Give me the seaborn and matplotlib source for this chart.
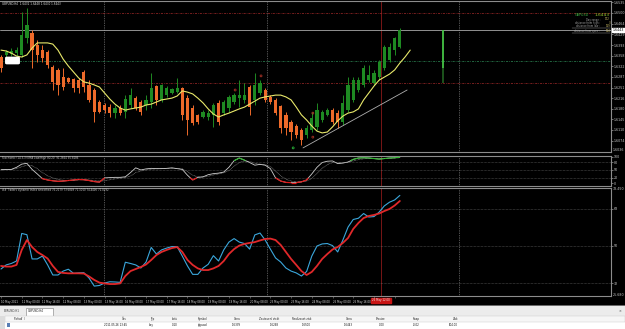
import numpy as np
import pandas as pd
import matplotlib
matplotlib.use("Agg")
import matplotlib.pyplot as plt
import matplotlib.transforms as mtransforms
from matplotlib.collections import LineCollection
from matplotlib.patches import Rectangle, FancyBboxPatch
import seaborn as sns

# ------------------------------------------------------------------ data
open_prices = [1.6353, 1.6360, 1.6363, 1.6366, 1.6360, 1.6416, 1.6433, 1.6393, 1.6376, 1.6370,
               1.6320, 1.6310, 1.6286, 1.6283, 1.6280, 1.6276, 1.6303, 1.6260, 1.6243, 1.6203,
               1.6193, 1.6186, 1.6166, 1.6183, 1.6170, 1.6193, 1.6216, 1.6203, 1.6193, 1.6203,
               1.6256, 1.6210, 1.6226, 1.6233, 1.6236, 1.6250, 1.6216, 1.6183, 1.6160, 1.6153,
               1.6153, 1.6160, 1.6200, 1.6166, 1.6183, 1.6203, 1.6216, 1.6210, 1.6253, 1.6210,
               1.6233, 1.6243, 1.6220, 1.6210, 1.6190, 1.6160, 1.6136, 1.6123, 1.6110, 1.6093,
               1.6110, 1.6120, 1.6143, 1.6160, 1.6176, 1.6166, 1.6136, 1.6176, 1.6210, 1.6243,
               1.6260, 1.6276, 1.6266, 1.6286, 1.6316, 1.6343, 1.6376, 1.6386]
high_prices = [1.6360, 1.6376, 1.6383, 1.6386, 1.6503, 1.6516, 1.6443, 1.6410, 1.6393, 1.6376,
               1.6326, 1.6316, 1.6316, 1.6286, 1.6283, 1.6283, 1.6310, 1.6276, 1.6250, 1.6210,
               1.6200, 1.6196, 1.6193, 1.6193, 1.6226, 1.6250, 1.6223, 1.6210, 1.6226, 1.6300,
               1.6260, 1.6263, 1.6256, 1.6250, 1.6283, 1.6253, 1.6226, 1.6193, 1.6163, 1.6176,
               1.6176, 1.6200, 1.6210, 1.6210, 1.6226, 1.6233, 1.6276, 1.6266, 1.6260, 1.6300,
               1.6276, 1.6250, 1.6226, 1.6216, 1.6193, 1.6170, 1.6143, 1.6130, 1.6116, 1.6126,
               1.6170, 1.6200, 1.6176, 1.6183, 1.6183, 1.6176, 1.6226, 1.6286, 1.6286, 1.6286,
               1.6326, 1.6326, 1.6310, 1.6343, 1.6393, 1.6400, 1.6420, 1.6450]
low_prices = [1.6303, 1.6353, 1.6356, 1.6356, 1.6353, 1.6400, 1.6316, 1.6336, 1.6336, 1.6316,
              1.6243, 1.6226, 1.6243, 1.6266, 1.6236, 1.6233, 1.6236, 1.6203, 1.6136, 1.6166,
              1.6166, 1.6153, 1.6150, 1.6160, 1.6150, 1.6183, 1.6176, 1.6160, 1.6176, 1.6183,
              1.6193, 1.6203, 1.6220, 1.6230, 1.6233, 1.6143, 1.6093, 1.6126, 1.6130, 1.6150,
              1.6143, 1.6120, 1.6126, 1.6160, 1.6170, 1.6196, 1.6186, 1.6200, 1.6160, 1.6193,
              1.6226, 1.6203, 1.6196, 1.6160, 1.6100, 1.6093, 1.6076, 1.6083, 1.6060, 1.6083,
              1.6103, 1.6110, 1.6136, 1.6156, 1.6130, 1.6116, 1.6126, 1.6170, 1.6203, 1.6236,
              1.6253, 1.6270, 1.6260, 1.6276, 1.6310, 1.6336, 1.6360, 1.6383]
close_prices = [1.6316, 1.6370, 1.6373, 1.6376, 1.6426, 1.6460, 1.6376, 1.6360, 1.6350, 1.6326,
                1.6270, 1.6260, 1.6253, 1.6270, 1.6250, 1.6250, 1.6253, 1.6210, 1.6170, 1.6170,
                1.6176, 1.6166, 1.6183, 1.6166, 1.6213, 1.6226, 1.6183, 1.6170, 1.6210, 1.6250,
                1.6210, 1.6260, 1.6250, 1.6246, 1.6250, 1.6160, 1.6143, 1.6133, 1.6136, 1.6170,
                1.6166, 1.6193, 1.6136, 1.6203, 1.6220, 1.6226, 1.6226, 1.6226, 1.6186, 1.6260,
                1.6266, 1.6210, 1.6203, 1.6166, 1.6116, 1.6116, 1.6103, 1.6093, 1.6076, 1.6116,
                1.6150, 1.6176, 1.6170, 1.6176, 1.6136, 1.6136, 1.6200, 1.6260, 1.6276, 1.6276,
                1.6316, 1.6293, 1.6300, 1.6336, 1.6386, 1.6386, 1.6416, 1.6443]

moving_average = [1.6376, 1.6373, 1.6366, 1.6356, 1.6353, 1.6360, 1.6383, 1.6400, 1.6400, 1.6400,
                  1.6396, 1.6376, 1.6346, 1.6323, 1.6303, 1.6283, 1.6270, 1.6266, 1.6260, 1.6253,
                  1.6233, 1.6213, 1.6196, 1.6183, 1.6176, 1.6180, 1.6183, 1.6186, 1.6193, 1.6196,
                  1.6203, 1.6210, 1.6213, 1.6216, 1.6223, 1.6240, 1.6236, 1.6230, 1.6216, 1.6200,
                  1.6180, 1.6163, 1.6153, 1.6160, 1.6166, 1.6173, 1.6180, 1.6186, 1.6196, 1.6206,
                  1.6216, 1.6220, 1.6223, 1.6226, 1.6226, 1.6220, 1.6210, 1.6186, 1.6160, 1.6143,
                  1.6123, 1.6106, 1.6100, 1.6103, 1.6120, 1.6140, 1.6156, 1.6166, 1.6170, 1.6180,
                  1.6210, 1.6233, 1.6256, 1.6276, 1.6286, 1.6296, 1.6310, 1.6333, 1.6353, 1.6376]

stoch_main = [51, 52, 52, 60, 72, 75, 52, 35, 17, 12,
              9, 7, 8, 10, 12, 14, 13, 10, 6, 4,
              20, 21, 22, 22, 24, 40, 58, 50, 54, 56,
              55, 55, 56, 58, 55, 52, 30, 12, 22, 24,
              32, 36, 38, 42, 60, 85, 95, 87, 78, 68,
              71, 68, 55, 20, 8, 3, 2, 2, 5, 12,
              35, 60, 78, 83, 84, 74, 76, 80, 90, 95,
              96, 95, 93, 91, 93, 95, 96, 98]
stoch_signal = [50, 51, 52, 55, 62, 68, 66, 55, 40, 28,
                20, 14, 11, 10, 10, 12, 13, 12, 10, 8,
                9, 13, 16, 19, 21, 27, 40, 46, 50, 53,
                54, 55, 55, 56, 56, 54, 44, 30, 24, 23,
                26, 31, 35, 39, 48, 64, 78, 84, 82, 75,
                72, 70, 63, 45, 28, 15, 8, 5, 5, 8,
                18, 36, 56, 70, 78, 78, 77, 79, 84, 89,
                92, 94, 94, 93, 93, 94, 95, 96]

tdi_price_line = [38.8, 40.8, 41.5, 42.7, 56.1, 55.5, 43.7, 43.7, 45.1, 40.8,
                  35.9, 35.9, 37.8, 38.7, 36.7, 36.9, 37.0, 34.4, 30.5, 30.8,
                  32.0, 32.6, 32.5, 32.3, 42.1, 41.5, 40.8, 39.3, 42.2, 49.3,
                  46.1, 48.1, 49.0, 49.7, 49.7, 45.1, 40.3, 36.2, 36.2, 39.3,
                  41.1, 45.3, 42.7, 48.1, 51.9, 53.6, 51.9, 51.2, 48.5, 55.4,
                  56.3, 52.9, 48.5, 44.2, 42.2, 39.3, 37.8, 36.9, 35.4, 37.6,
                  45.1, 50.0, 51.0, 51.2, 50.2, 47.1, 52.9, 59.2, 62.9, 63.5,
                  65.8, 64.1, 64.3, 66.5, 69.5, 71.3, 72.4, 74.6]
tdi_signal_line = [40.3, 40.0, 40.0, 40.8, 48.1, 52.9, 49.5, 47.1, 45.6, 43.9,
                   40.3, 37.4, 36.9, 36.7, 36.7, 36.7, 36.6, 35.2, 33.5, 32.2,
                   31.8, 31.5, 31.5, 31.8, 35.4, 37.8, 38.8, 39.8, 41.0, 43.2,
                   45.6, 47.1, 48.1, 49.0, 49.5, 47.1, 43.2, 40.8, 39.1, 38.3,
                   38.3, 39.1, 40.3, 42.7, 46.1, 48.5, 50.2, 51.0, 51.5, 51.9,
                   52.7, 53.4, 53.6, 52.9, 50.5, 47.1, 43.7, 40.8, 37.8, 35.9,
                   37.4, 40.3, 43.7, 46.1, 48.3, 49.5, 51.5, 53.9, 58.3, 61.2,
                   63.6, 64.6, 65.1, 65.8, 67.0, 68.0, 69.7, 71.9]

time_labels = ["10 May 2011", "11 May 00:00", "11 May 16:00", "12 May 08:00", "13 May 00:00",
               "13 May 16:00", "16 May 08:00", "17 May 00:00", "17 May 16:00", "18 May 08:00",
               "19 May 00:00", "19 May 16:00", "20 May 08:00", "23 May 00:00", "23 May 16:00",
               "24 May 08:00", "25 May 00:00", "25 May 16:00", "26 May 08:00", "27 May 00:00"]
order_time_label = "26 May 12:00"
price_ticks = [1.6535, 1.6500, 1.6464, 1.6429, 1.6393, 1.6358, 1.6322, 1.6287, 1.6251,
               1.6216, 1.6180, 1.6145, 1.6110, 1.6074]
stoch_ticks = [100, 80, 50, 20, 0]
tdi_ticks = [68, 50, 32]

current_price = 1.6443
order_open = 1.6339
stop_loss = 1.6268
take_profit = 1.6500
trend_line_bars = [58.3, 78.4]
trend_line_prices = [1.6050, 1.6243]
day_range_top, day_range_mid, day_range_low = 1.6443, 1.6316, 1.6266
fractal_up_bars = [45.2, 50.2, 60.2, 60.2]
fractal_up_prices = [1.6243, 1.6290, 1.6166, 1.6086]
fractal_dn_bars = [56.4]
fractal_dn_prices = [1.6050]

info_rows = [("Day range :", "172"), ("distance from high :", "3"),
             ("distance from low :", "169"), ("distance from open :", "104")]
table_header = ["Pořadí  /", "Čas", "Typ", "Lotů", "Symbol", "Cena", "Zastavení ztrát",
                "Realizovat zisk", "Cena", "Provize", "Swap", "Zisk"]
table_row = ["", "2011.05.26 13:45", "buy", "0.10", "gbpusd", "1.6339", "1.6268",
             "1.6500", "1.6443", "0.00", "-0.02", "104.00"]

# ------------------------------------------------------------------ style
sns.set_theme(style="white", rc={"axes.facecolor": "black", "figure.facecolor": "black"})
plt.rcParams["font.family"] = ["DejaVu Sans"]

W, H = 625, 329
PX = 5.18  # pixels per bar


def rect(x0, y0, x1, y1):
    return [x0 / W, 1 - y1 / H, (x1 - x0) / W, (y1 - y0) / H]


def bx(px):
    return (px - 1) / PX


fig = plt.figure(figsize=(6.25, 3.29), dpi=100, facecolor="black")
ax_main = fig.add_axes(rect(0, 1, 611, 152))
ax_sto = fig.add_axes(rect(0, 155.5, 611, 185.5), sharex=ax_main)
ax_tdi = fig.add_axes(rect(0, 187.5, 611, 296), sharex=ax_main)

GRAY = "#8C8C8C"
TXT = "#C8C8C8"
order_bar = bx(381)
for ax in (ax_main, ax_sto, ax_tdi):
    ax.set_facecolor("black")
    for s in ("top", "bottom", "right"):
        ax.spines[s].set_color(GRAY)
        ax.spines[s].set_linewidth(0.8)
    ax.spines["left"].set_visible(False)
    ax.yaxis.tick_right()
    ax.tick_params(axis="y", labelsize=2.3, colors=TXT, length=1.2, width=0.4, pad=0.8)
    ax.grid(False)
    for vx in (bx(104), bx(267), bx(459)):
        ax.axvline(vx, color="#A0A0A0", ls=(0, (1, 1.5)), lw=0.5, zorder=1)
    ax.axvline(order_bar, color="#8B1A1A", lw=0.6, zorder=1)

ax_main.set_xlim(bx(0), bx(611))

# ------------------------------------------------------------------ price panel
o = np.array(open_prices); c = np.array(close_prices)
hi = np.array(high_prices); lo = np.array(low_prices)
xb = np.arange(len(c))
bull = c >= o
GREEN = "#1E8A22"
ORANGE = "#EE6A2A"
cols = np.where(bull, GREEN, ORANGE)
ax_main.vlines(xb, lo, hi, colors=cols, lw=0.7, zorder=3)
ax_main.bar(xb, np.maximum(np.abs(c - o), 0.0002), bottom=np.minimum(o, c), width=0.62,
            color=cols, lw=0, zorder=4)

ax_main.axhline(take_profit, color="#A52A2A", ls=(0, (3, 1.5, 1, 1.5)), lw=0.5, zorder=2)
ax_main.axhline(stop_loss, color="#A52A2A", ls=(0, (3, 1.5, 1, 1.5)), lw=0.5, zorder=2)
ax_main.axhline(order_open, color="#2E8B57", ls=(0, (3, 1.5, 1, 1.5)), lw=0.5, zorder=2)
ax_main.axhline(current_price, color="#A8A8A8", lw=0.6, zorder=2)

sns.lineplot(x=np.arange(len(moving_average)), y=moving_average, ax=ax_main,
             color="#E8E86A", lw=0.8, estimator=None, sort=False, zorder=5)
sns.lineplot(x=trend_line_bars, y=trend_line_prices, ax=ax_main, color="#B0B0B0",
             lw=0.6, estimator=None, sort=False, zorder=5)
ax_main.scatter(fractal_up_bars, fractal_up_prices, s=2, facecolors="none",
                edgecolors="#C0392B", linewidths=0.5, zorder=6)
ax_main.scatter(fractal_dn_bars, fractal_dn_prices, s=2, facecolors="none",
                edgecolors="#2ECC40", linewidths=0.5, zorder=6)
dx = bx(443)
ax_main.vlines([dx], [day_range_mid], [day_range_top], colors="#45C445", lw=1.3, zorder=4)
ax_main.vlines([dx], [day_range_low], [day_range_mid], colors="#1F5A1F", lw=1.3, zorder=4)

ax_main.set_ylim(1.6543 - 152 * 0.0003333, 1.6543 - 1 * 0.0003333)
ax_main.set_yticks(price_ticks)
ax_main.set_yticklabels([f"{p:.4f}" for p in price_ticks])
ax_main.set_xlabel(""); ax_main.set_ylabel("")
tr = mtransforms.blended_transform_factory(ax_main.transAxes, ax_main.transData)
ax_main.text(1.003, current_price, f"{current_price:.4f}", transform=tr, fontsize=2.3,
             color="black", va="center", ha="left",
             bbox=dict(boxstyle="square,pad=0.15", fc="white", ec="white"), zorder=10,
             clip_on=False)

# ------------------------------------------------------------------ stochastic
sm = np.array(stoch_main, dtype=float)
xs = np.arange(len(sm))
sns.lineplot(x=xs, y=stoch_signal, ax=ax_sto, color="#9A9A9A", lw=0.5, ls=(0, (1, 1)),
             estimator=None, sort=False)
sns.lineplot(x=xs, y=sm, ax=ax_sto, color="#D0D0D0", lw=0.6, estimator=None, sort=False)


def segs(xv, yv, thr, below):
    out = []
    for i in range(len(xv) - 1):
        x0, x1, y0, y1 = xv[i], xv[i + 1], yv[i], yv[i + 1]
        a = y0 < thr if below else y0 > thr
        b = y1 < thr if below else y1 > thr
        if a and b:
            out.append([(x0, y0), (x1, y1)])
        elif a or b:
            t = (thr - y0) / (y1 - y0)
            xc = x0 + t * (x1 - x0)
            out.append([(x0, y0), (xc, thr)] if a else [(xc, thr), (x1, y1)])
    return out


ax_sto.add_collection(LineCollection(segs(xs, sm, 20, True), colors="#E01818", lw=0.9, zorder=5))
ax_sto.add_collection(LineCollection(segs(xs, sm, 85, False), colors="#2EB82E", lw=0.8, zorder=5))
for lv in (80, 50, 20):
    ax_sto.axhline(lv, color="#808080", ls=(0, (1, 1.5)), lw=0.4)
ax_sto.set_ylim(-8.8, 104.6)
ax_sto.set_yticks(stoch_ticks)
ax_sto.set_yticklabels([str(t) for t in stoch_ticks])
ax_sto.set_xlabel(""); ax_sto.set_ylabel("")

# ------------------------------------------------------------------ TDI
xt = np.arange(len(tdi_price_line))
sns.lineplot(x=xt, y=tdi_price_line, ax=ax_tdi, color="#3BA7DC", lw=0.8,
             estimator=None, sort=False, zorder=4)
sns.lineplot(x=xt, y=tdi_signal_line, ax=ax_tdi, color="#E0282A", lw=1.3,
             estimator=None, sort=False, zorder=5)
for lv in tdi_ticks:
    ax_tdi.axhline(lv, color="#808080", ls=(0, (1, 1.5)), lw=0.4)
ax_tdi.set_ylim(25.68, 78.45)
ax_tdi.set_yticks(tdi_ticks)
ax_tdi.set_yticklabels([str(t) for t in tdi_ticks])
tick_bars = np.arange(0, 4 * len(time_labels), 4)
# the label hidden under the red order-time box is left blank
shown_labels = [("" if abs(b - order_bar) < 3 else lab) for b, lab in zip(tick_bars, time_labels)]
ax_tdi.set_xticks(tick_bars)
ax_tdi.set_xticklabels(shown_labels, ha="left", fontsize=1.9, color="#E0E0E0")
ax_tdi.tick_params(axis="x", bottom=True, length=1.5, width=0.4, colors=GRAY, pad=1.2,
                   labelcolor="#E0E0E0")
ax_tdi.set_xlabel(""); ax_tdi.set_ylabel("")
ax_main.tick_params(axis="x", bottom=False, labelbottom=False)
ax_sto.tick_params(axis="x", bottom=False, labelbottom=False)


def ftext(px, py, s, **kw):
    fig.text(px / W, 1 - py / H, s, **kw)


# panel titles and extra axis labels
ftext(2, 4, "GBPUSD,H4  1.6432 1.6448 1.6430 1.6443", fontsize=2.0, color="#E0E0E0", va="center")
ftext(2, 158.5, "Stochastic (14,3,3) EMA Low/High 80,20  91.2664 95.8186", fontsize=1.9,
      color=TXT, va="center")
ftext(2, 190.5, "## Traders dynamic index smoothed 76.2179 73.6849 71.1010 74.4446 71.0292",
      fontsize=1.9, color=TXT, va="center")
ftext(613, 150.5, "1.6036", fontsize=2.3, color=TXT, va="center")
ftext(613, 189, "78.450", fontsize=2.3, color=TXT, va="center")
ftext(613, 295, "25.680", fontsize=2.3, color=TXT, va="center")
ftext(381, 300.5, order_time_label, fontsize=1.9, color="#F0F0F0", ha="center", va="center",
      bbox=dict(boxstyle="square,pad=0.25", fc="#C81414", ec="#C81414"), zorder=10)

# white marker label on the price panel
fig.add_artist(FancyBboxPatch((7 / W, 1 - 63 / H), 11 / W, 5 / H,
                              boxstyle="round,pad=0.002", transform=fig.transFigure,
                              fc="white", ec="white"))

# info panel (top right)
ftext(589, 14.5, "GBPUSD", fontsize=2.4, color="#3CB043", ha="right", va="center")
ftext(610, 14.5, "1.6443", fontsize=3.2, color="#9ACD32", ha="right", va="center")
for k, (lab, val) in enumerate(info_rows):
    yy = [19.5, 22.6, 25.7, 31.0][k]
    ftext(600, yy, lab, fontsize=1.8, color="#A8A8A8", ha="right", va="center")
    ftext(610, yy, val, fontsize=1.8, color="#D4C46A", ha="right", va="center")
for yy in (28.3, 33.4):
    fig.add_artist(plt.Line2D([572 / W, 610 / W], [1 - yy / H] * 2, color="#A8A8A8",
                              lw=0.3, transform=fig.transFigure))

# ------------------------------------------------------------------ terminal
ax_term = fig.add_axes(rect(0, 305, 625, 329))
ax_term.set_xlim(0, W)
ax_term.set_ylim(329, 305)
ax_term.set_facecolor("#ECECEC")
ax_term.set_xticks([]); ax_term.set_yticks([])
for s in ax_term.spines.values():
    s.set_visible(False)
ax_term.add_patch(Rectangle((0, 305), 625, 1, fc="#6A6A6A", ec="none"))
ax_term.add_patch(Rectangle((26, 307.5), 27, 8, fc="white", ec="#7A7A7A", lw=0.4))
ax_term.text(4, 311.5, "EURUSD,H1", fontsize=2.0, color="#404040", va="center")
ax_term.text(28, 311.5, "GBPUSD,H4", fontsize=2.0, color="#202020", va="center")
ax_term.text(620, 311.5, "×", fontsize=2.4, color="#404040", va="center", ha="center")
ax_term.add_patch(Rectangle((5, 316), 620, 13, fc="white", ec="none"))
ax_term.add_patch(Rectangle((5, 316), 620, 5.5, fc="#F6F6F6", ec="#C8C8C8", lw=0.3))
ax_term.add_patch(Rectangle((0, 316), 5, 13, fc="#DCDCDC", ec="none"))
col_right = [26, 127, 154, 178, 208, 241, 279, 311, 353, 385, 420, 458]
for k, (hdr, val) in enumerate(zip(table_header, table_row)):
    if k == 0:
        ax_term.text(14, 318.8, hdr, fontsize=1.9, color="#202020", va="center", ha="left")
    else:
        ax_term.text(col_right[k], 318.8, hdr, fontsize=1.9, color="#202020", va="center",
                     ha="right")
        ax_term.text(col_right[k], 325, val, fontsize=1.9, color="#101010", va="center",
                     ha="right")
ax_term.add_patch(Rectangle((7, 323), 3, 4, fc="#5A7FB5", ec="none"))

fig.savefig("out.png", dpi=100, facecolor="black")
